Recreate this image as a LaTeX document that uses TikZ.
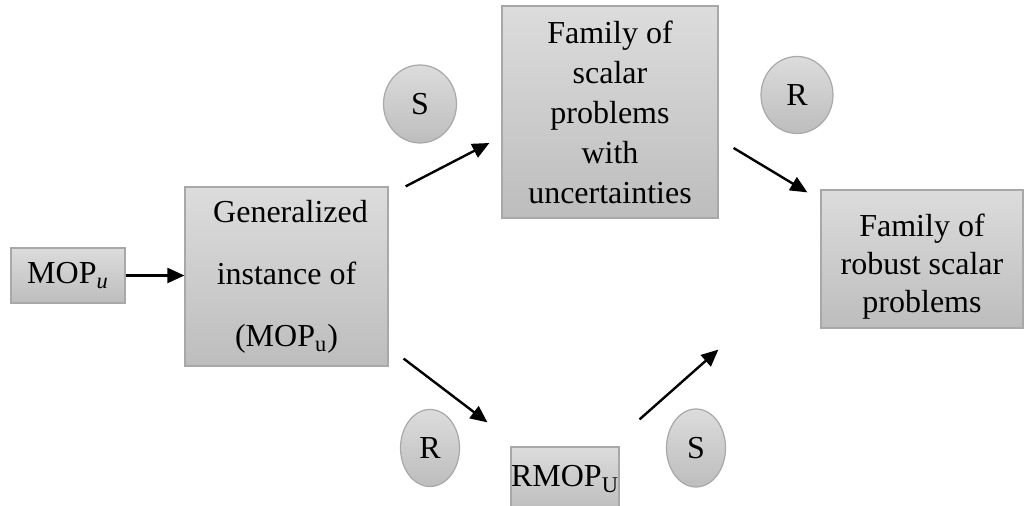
\documentclass[tikz,border=0pt]{standalone}
\usepackage{fontspec}
\setmainfont{Liberation Serif}
\usetikzlibrary{shapes.geometric,arrows.meta,calc}
\definecolor{boxtop}{HTML}{DCDCDC}
\definecolor{boxbot}{HTML}{BDBDBD}
\definecolor{boxline}{HTML}{A8A8A8}
\tikzset{
	greybox/.style={rectangle, draw=boxline, line width=0.6pt, top color=boxtop, bottom color=boxbot, inner sep=0pt, align=center, font=\fontsize{16}{20}\selectfont},
	opcircle/.style={ellipse, draw=boxline, line width=0.6pt, top color=boxtop, bottom color=boxbot, inner sep=0pt, font=\fontsize{16}{19}\selectfont},
	flow/.style={line width=1.2pt, -{Triangle[length=8.5pt, width=7.5pt]}}
}
\begin{document}
\begin{tikzpicture}[x=0.5pt, y=-0.5pt]

	\path[use as bounding box, clip] (0,0) rectangle (1026,506);

	\node [greybox, minimum width=57pt, minimum height=27.5pt] (mop) at (68,275.5) {MOP\textsubscript{\itshape u}};
	\node [greybox, minimum width=101.5pt, minimum height=89.5pt, font=\fontsize{16}{31}\selectfont] (gen) at (286.5,276.5) {\ Generalized\\instance of\\(MOP\textsubscript{u})};
	\node [greybox, minimum width=108pt, minimum height=106pt] (fam) at (610,112) {Family of\\scalar\\problems\\with\\uncertainties};
	\node [greybox, minimum width=101pt, minimum height=69pt, font=\fontsize{16}{19}\selectfont] (rob) at (922,259) {\rule{0pt}{19pt}Family of\\robust scalar\\problems};
	\node [greybox, minimum width=53pt, minimum height=32pt] (rmop) at (565,479) {RMOP\textsubscript{U}};

	\node [opcircle, minimum width=36.5pt, minimum height=39pt] (s1) at (420,104) {S};
	\node [opcircle, minimum width=36pt, minimum height=38.5pt] (r1) at (797,95) {R};
	\node [opcircle, minimum width=29.5pt, minimum height=38.5pt] (r2) at (430,448) {R};
	\node [opcircle, minimum width=29.5pt, minimum height=39pt] (s2) at (696,448) {S};

	\draw [flow] (mop.east) -- (mop.east -| gen.west);
	\draw [flow] ($(gen.north east)+(17,0)$) -- ($(fam.west)+(-12,31)$);
	\draw [flow] ($(fam.east)+(15,36)$) -- ($(rob.north west)+(-13,3)$);
	\draw [flow] ($(gen.south east)+(15,-8)$) -- ($(rmop.north west)+(-23,-24)$);
	\draw [flow] ($(rmop.north east)+(20,-27)$) -- ($(rob.south west)+(-102,21)$);

\end{tikzpicture}
\end{document}
